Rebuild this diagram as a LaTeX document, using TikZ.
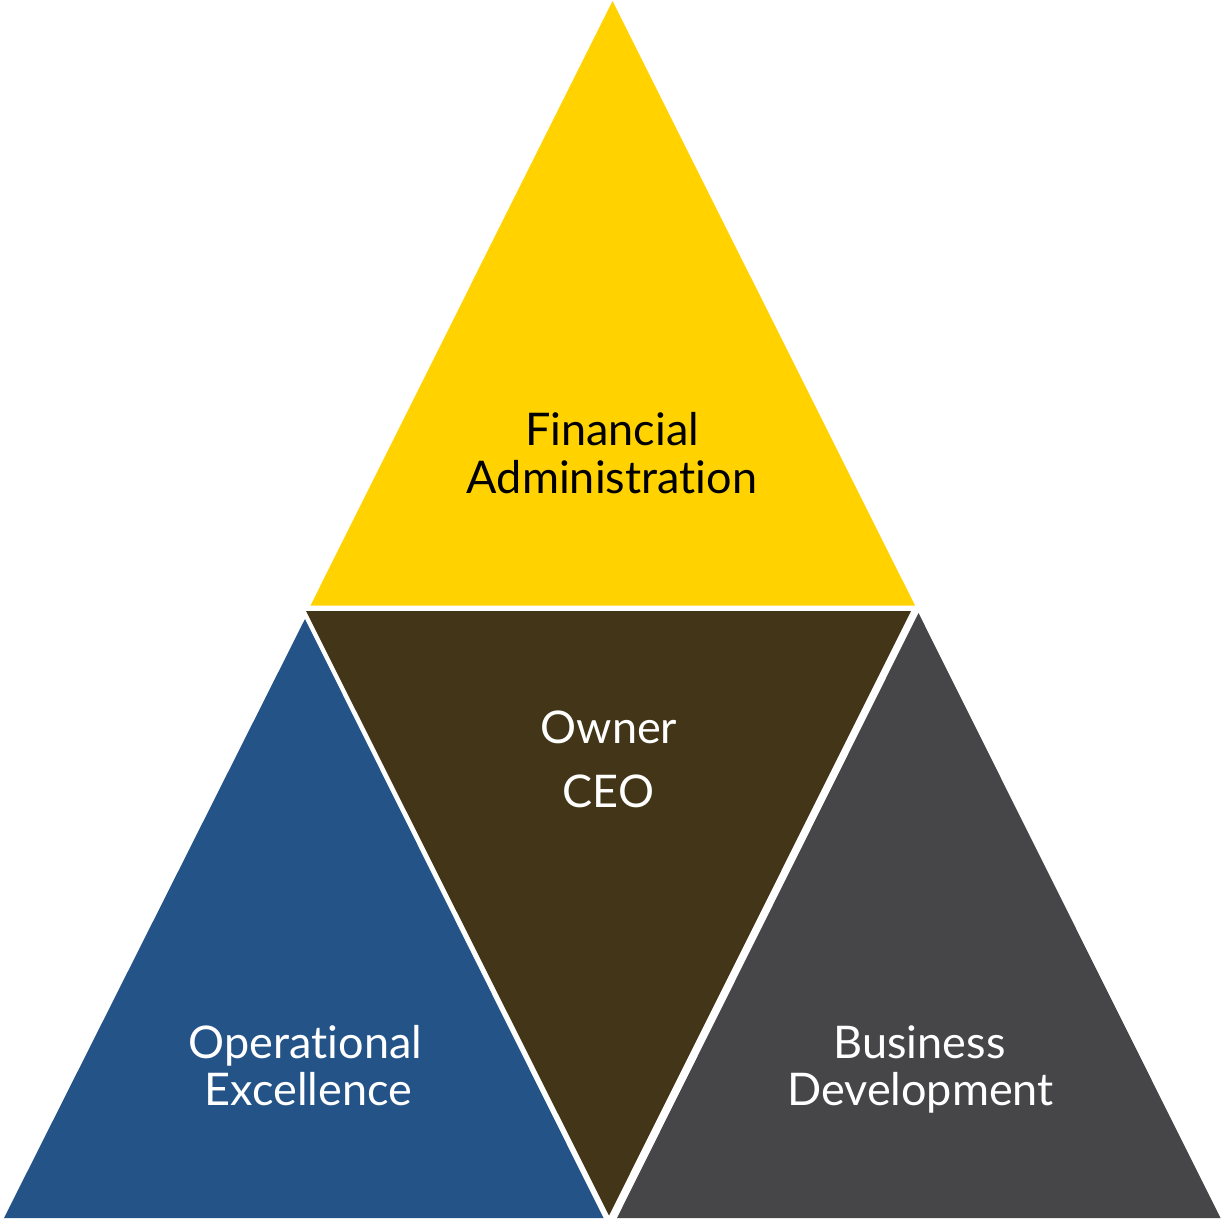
\documentclass[tikz,border=0pt]{standalone}
\usepackage{fontspec}
\setmainfont[Ligatures={NoCommon,NoDiscretionary}]{Lato}
\definecolor{finyellow}{HTML}{FFD200}
\definecolor{ceobrown}{HTML}{433517}
\definecolor{opsblue}{HTML}{245388}
\definecolor{bizgray}{HTML}{464648}
\tikzset{
  lbl/.style={inner sep=0pt, anchor=base, font=\fontsize{45}{48}\selectfont},
}
\begin{document}
\begin{tikzpicture}[x=1pt, y=-1pt]
        \useasboundingbox (0,0) rectangle (1224,1225);

        \fill[finyellow] (612.5,1) -- (915,605.5) -- (310.5,605.5) -- cycle;
        \fill[ceobrown] (306,611) -- (911,611) -- (609,1215.5) -- cycle;
        \fill[opsblue] (305,619) -- (603.5,1218) -- (4,1218) -- cycle;
        \fill[bizgray] (918.5,613) -- (1220.5,1218) -- (617,1218) -- cycle;

        \node[lbl, black] (fin1) at (612,445) {Financial};
        \node[lbl, black] (fin2) at (612,493.5) {Administration};

        \node[lbl, white] (ceo1) at (609,743) {Owner};
        \node[lbl, white] (ceo2) at (608.5,807.5) {CEO};

        \node[lbl, white] (ops1) at (305.5,1058) {Operational};
        \node[lbl, white] (ops2) at (308.5,1105.5) {Excellence};

        \node[lbl, white] (biz1) at (919.5,1058) {Business};
        \node[lbl, white] (biz2) at (920.5,1105.5) {Development};
    \end{tikzpicture}
\end{document}
